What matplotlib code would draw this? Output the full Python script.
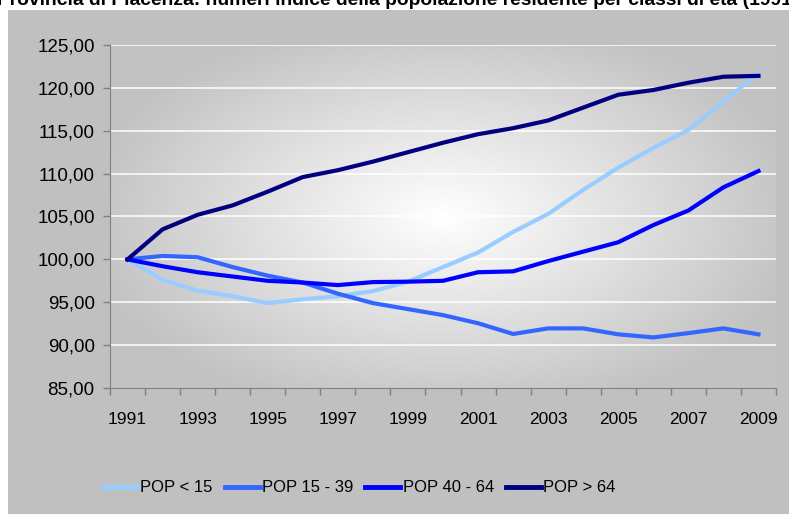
import numpy as np
import matplotlib.pyplot as plt
from matplotlib.patches import Rectangle
from matplotlib.colors import LinearSegmentedColormap

# dati (numeri indice, 1991 = 100)
anni = list(range(1991, 2010))
pop_0_14 = [100.0, 97.6, 96.35, 95.7, 94.9, 95.35, 95.7, 96.3, 97.4, 99.1,
            100.8, 103.2, 105.3, 108.1, 110.7, 113.0, 115.1, 118.4, 121.7]
pop_15_39 = [100.0, 100.4, 100.25, 99.1, 98.1, 97.3, 96.0, 94.9, 94.2, 93.5,
             92.55, 91.3, 91.95, 91.95, 91.26, 90.9, 91.4, 91.95, 91.26]
pop_40_64 = [100.0, 99.2, 98.5, 98.0, 97.5, 97.3, 97.0, 97.35, 97.4, 97.5,
             98.5, 98.6, 99.8, 100.9, 102.0, 104.0, 105.7, 108.4, 110.3]
pop_65 = [100.0, 103.5, 105.2, 106.3, 107.9, 109.6, 110.4, 111.4, 112.5, 113.6,
          114.6, 115.3, 116.2, 117.7, 119.2, 119.75, 120.6, 121.3, 121.4]

etichette = ['POP < 15', 'POP 15 - 39', 'POP 40 - 64', 'POP > 64']
colori = ['#99ccff', '#3366ff', '#0000ff', '#000080']
serie = [pop_0_14, pop_15_39, pop_40_64, pop_65]

font = ['Liberation Sans', 'DejaVu Sans']

W, H = 789, 514
fig = plt.figure(figsize=(W / 100, H / 100), dpi=100, facecolor='white')
fig.patches.append(Rectangle((8 / W, 0), 1, (H - 10) / H, transform=fig.transFigure,
                             facecolor='#c0c0c0', edgecolor='none', zorder=-10))

# titolo, tagliato in alto come nell'originale
fig.text(-3 / W, 1 - 5 / H,
         'Provincia di Piacenza: numeri indice della popolazione residente per classi di età (1991=100)',
         fontsize=13.9, fontweight='bold', family=font, va='baseline', ha='left')

ax = fig.add_axes([110 / W, 1 - 388 / H, 666 / W, 343 / H])
ax.patch.set_alpha(0)

# sfondo sfumato radiale dell'area del grafico
gx, gy = np.meshgrid(np.linspace(0, 1, 400), np.linspace(0, 1, 300))
r = np.sqrt(((gx - 0.5) / 0.55) ** 2 + ((gy - 0.5) / 0.6) ** 2)
r = np.clip(r, 0, 1)
cmap = LinearSegmentedColormap.from_list('sf', ['#ffffff', '#c2c2c2'])
ax.imshow(r, cmap=cmap, extent=(1990.5, 2009.5, 85, 125), aspect='auto',
          origin='lower', zorder=0, vmin=0, vmax=1)

for v in range(90, 126, 5):
    ax.axhline(v, color='white', lw=1.1, zorder=1)

for s, c, lab in zip(serie, colori, etichette):
    ax.plot(anni, s, color=c, lw=3, label=lab, zorder=3)

ax.set_xlim(1990.5, 2009.5)
ax.set_ylim(85, 125)
ax.set_yticks(range(85, 126, 5))
ax.set_yticklabels([f'{v},00' for v in range(85, 126, 5)])
ax.set_xticks(anni[::2])
ax.set_xticks(np.arange(1990.5, 2010, 1), minor=True)
ax.tick_params(axis='x', which='major', length=0, pad=17)
ax.tick_params(axis='x', which='minor', length=5, color='#808080', width=1)
ax.tick_params(axis='y', length=5, color='#808080', width=1, pad=6)
for lbl in ax.get_xticklabels():
    lbl.set_family(font)
    lbl.set_fontsize(12.5)
for lbl in ax.get_yticklabels():
    lbl.set_family(font)
    lbl.set_fontsize(13.5)
for sp in ['top', 'right']:
    ax.spines[sp].set_visible(False)
for sp in ['left', 'bottom']:
    ax.spines[sp].set_color('#808080')

leg = fig.legend(loc='center left', bbox_to_anchor=(88 / W, 1 - 488 / H), ncol=4,
                 frameon=False, handlelength=2.1, handletextpad=0.15, columnspacing=0.7,
                 prop={'family': font, 'size': 12})
for h in leg.get_lines():
    h.set_linewidth(3.5)

fig.savefig('out.png', dpi=100, facecolor='white')
